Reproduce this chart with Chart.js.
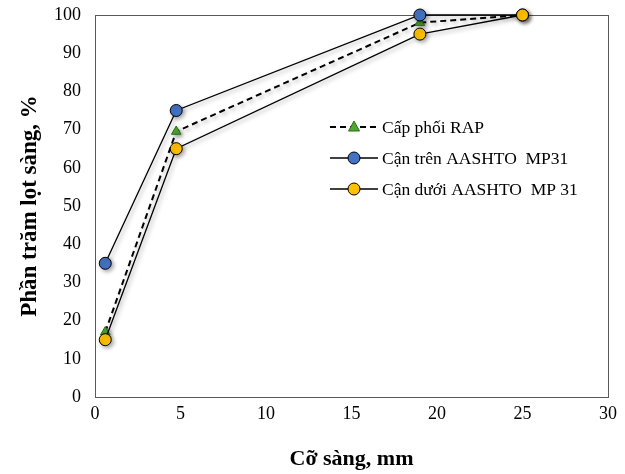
<!DOCTYPE html>
<html lang="vi">
<head>
    <meta charset="UTF-8">
    <title>Cấp phối RAP</title>
    <script src="https://cdn.jsdelivr.net/npm/chart.js"></script>
    <style>
        body { margin: 0; background: #fff; }
        #wrap { width: 625px; height: 474px; }
    </style>
</head>
<body>
    <div id="wrap"><canvas id="myChart" width="625" height="474"></canvas></div>
    <script>
        // co sang (mm)
        const sieveSizes = [0.6, 4.75, 19, 25];
        const rapPassing = [17, 69.5, 98, 100];
        const upperPassing = [35, 75, 100, 100];
        const lowerPassing = [15, 65, 95, 100];
        const seriesNames = ['Cấp phối RAP', 'Cận trên AASHTO  MP31', 'Cận dưới AASHTO  MP 31'];

        const toPoints = vals => sieveSizes.map((x, i) => ({ x: x, y: vals[i] }));
        const serif = '"Liberation Serif", "Times New Roman", serif';

        // khung + shadow
        const framePlugin = {
            id: 'frame',
            beforeDatasetsDraw(chart) {
                const a = chart.chartArea;
                const ctx = chart.ctx;
                ctx.save();
                ctx.strokeStyle = '#595959';
                ctx.lineWidth = 1;
                ctx.strokeRect(a.left + 0.5, a.top + 0.5, a.right - a.left, a.bottom - a.top);
                ctx.restore();
                ctx.save();
                ctx.shadowColor = 'rgba(0,0,0,0.35)';
                ctx.shadowBlur = 4;
                ctx.shadowOffsetX = 2;
                ctx.shadowOffsetY = 2;
            },
            afterDatasetsDraw(chart) {
                chart.ctx.restore();
            }
        };

        // legend ben trong vung ve
        const innerLegend = {
            id: 'innerLegend',
            afterDraw(chart) {
                const ctx = chart.ctx;
                const x0 = 330, x1 = 378, rows = [127, 158, 189];
                ctx.save();
                chart.data.datasets.forEach((ds, i) => {
                    const y = rows[i];
                    ctx.beginPath();
                    ctx.setLineDash(ds.borderDash || []);
                    ctx.strokeStyle = ds.borderColor;
                    ctx.lineWidth = ds.borderWidth;
                    ctx.moveTo(x0, y);
                    ctx.lineTo(x1, y);
                    ctx.stroke();
                    ctx.setLineDash([]);
                    const cx = (x0 + x1) / 2;
                    ctx.fillStyle = ds.pointBackgroundColor;
                    ctx.strokeStyle = ds.pointBorderColor;
                    ctx.lineWidth = 1;
                    ctx.beginPath();
                    if (ds.pointStyle === 'triangle') {
                        ctx.moveTo(cx, y - 6);
                        ctx.lineTo(cx + 5.5, y + 4);
                        ctx.lineTo(cx - 5.5, y + 4);
                        ctx.closePath();
                    } else {
                        ctx.arc(cx, y, 6, 0, Math.PI * 2);
                    }
                    ctx.fill();
                    ctx.stroke();
                    ctx.fillStyle = '#000';
                    ctx.font = '17.5px ' + serif;
                    ctx.textBaseline = 'middle';
                    ctx.fillText(ds.label, x1 + 4, y + 1);
                });
                ctx.restore();
            }
        };

        const ctx = document.getElementById('myChart').getContext('2d');
        new Chart(ctx, {
            type: 'scatter',
            data: {
                datasets: [
                    {
                        label: seriesNames[0],
                        data: toPoints(rapPassing),
                        showLine: true,
                        clip: false,
                        borderColor: '#000',
                        borderWidth: 2,
                        borderDash: [6, 4],
                        pointStyle: 'triangle',
                        pointRadius: 5.5,
                        pointBackgroundColor: '#4ea72e',
                        pointBorderColor: '#2f6b1b',
                        pointBorderWidth: 1,
                        order: 3
                    },
                    {
                        label: seriesNames[1],
                        data: toPoints(upperPassing),
                        showLine: true,
                        clip: false,
                        borderColor: '#000',
                        borderWidth: 1.3,
                        pointRadius: 6,
                        pointBackgroundColor: '#4472c4',
                        pointBorderColor: '#000',
                        pointBorderWidth: 1,
                        order: 2
                    },
                    {
                        label: seriesNames[2],
                        data: toPoints(lowerPassing),
                        showLine: true,
                        clip: false,
                        borderColor: '#000',
                        borderWidth: 1.3,
                        pointRadius: 6,
                        pointBackgroundColor: '#ffc000',
                        pointBorderColor: '#000',
                        pointBorderWidth: 1,
                        order: 1
                    }
                ]
            },
            options: {
                responsive: false,
                animation: false,
                layout: { padding: { left: 16, right: 17, top: 15, bottom: 0 } },
                plugins: {
                    legend: { display: false },
                    tooltip: { enabled: false }
                },
                scales: {
                    x: {
                        type: 'linear',
                        min: 0,
                        max: 30,
                        ticks: { stepSize: 5, color: '#000', font: { family: serif, size: 18 }, padding: 6 },
                        grid: { display: false, drawTicks: false },
                        border: { display: false },
                        title: {
                            display: true,
                            text: 'Cỡ sàng, mm',
                            color: '#000',
                            font: { family: serif, size: 22, weight: 'bold' },
                            padding: { top: 20, bottom: 1 }
                        },
                        afterFit(scale) {
                            scale.height = 77;
                            scale.paddingLeft = 0;
                            scale.paddingRight = 0;
                        }
                    },
                    y: {
                        min: 0,
                        max: 100,
                        ticks: { stepSize: 10, color: '#000', font: { family: serif, size: 18 }, padding: 14 },
                        grid: { display: false, drawTicks: false },
                        border: { display: false },
                        title: {
                            display: true,
                            text: 'Phần trăm lọt sàng, %',
                            color: '#000',
                            font: { family: serif, size: 23, weight: 'bold' },
                            padding: { top: 0, bottom: 9 }
                        },
                        afterFit(scale) {
                            scale.width = 79;
                            scale.paddingTop = 0;
                            scale.paddingBottom = 0;
                        }
                    }
                }
            },
            plugins: [framePlugin, innerLegend]
        });
    </script>
</body>
</html>
